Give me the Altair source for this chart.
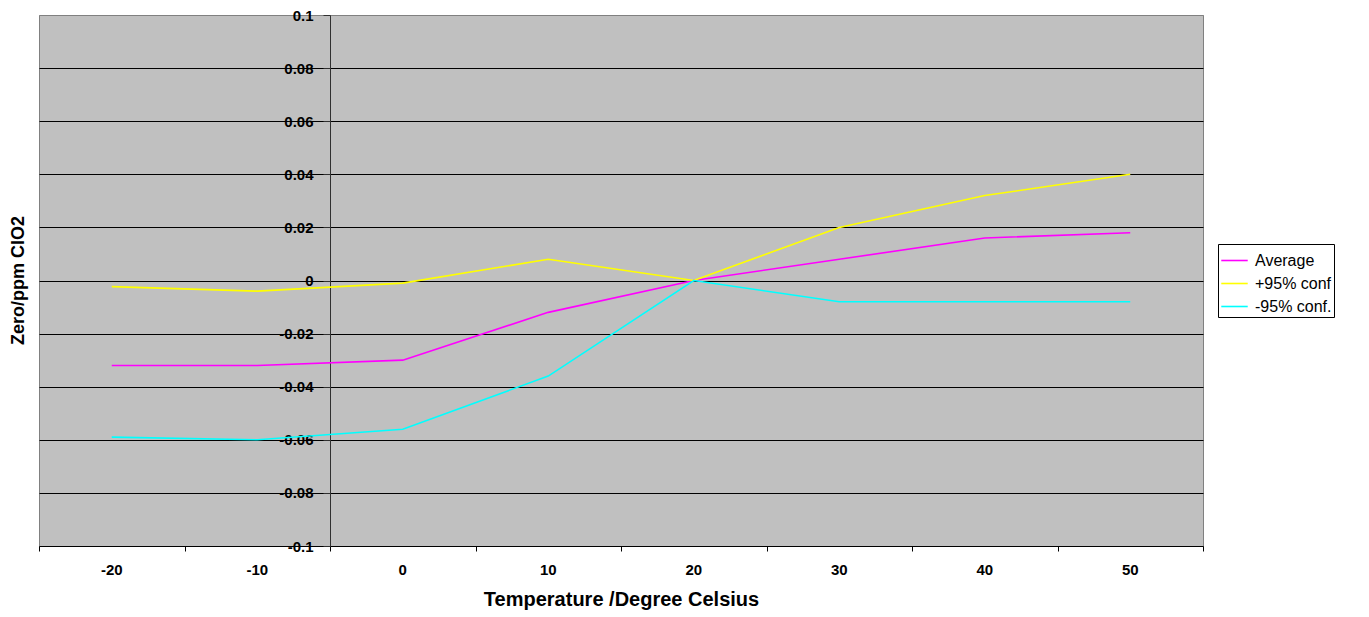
import altair as alt
import pandas as pd

temps = [-20, -10, 0, 10, 20, 30, 40, 50]
temp_labels = ["-20", "-10", "0", "10", "20", "30", "40", "50"]
average = [-0.032, -0.032, -0.030, -0.012, 0.0, 0.008, 0.016, 0.018]
plus95 = [-0.0023, -0.004, -0.001, 0.008, 0.0, 0.020, 0.032, 0.040]
minus95 = [-0.059, -0.060, -0.056, -0.036, 0.0, -0.008, -0.008, -0.008]
series_names = ["Average", "+95% conf", "-95% conf."]
series_colors = ["#FF00FF", "#FFFF00", "#00FFFF"]
y_ticks = [0.1, 0.08, 0.06, 0.04, 0.02, 0.0, -0.02, -0.04, -0.06, -0.08, -0.1]
x_bounds = [-25, -15, -5, 5, 15, 25, 35, 45, 55]

rows = []
for name, vals in zip(series_names, [average, plus95, minus95]):
    for t, v in zip(temps, vals):
        rows.append({"temp": t, "value": v, "series": name})
df = pd.DataFrame(rows)

W, H = 1164, 531
FONT = "Liberation Sans"

x_scale = alt.Scale(domain=[-25, 55], nice=False, zero=False)
y_scale = alt.Scale(domain=[-0.1, 0.1], nice=False, zero=False)

lines = alt.Chart(df).mark_line(strokeWidth=1.6).encode(
    x=alt.X("temp:Q", scale=x_scale,
            axis=alt.Axis(values=x_bounds, title="Temperature /Degree Celsius",
                          labels=False, tickSize=5,
                          tickColor="black", domainColor="black", grid=False,
                          titleFont=FONT, titleFontSize=20,
                          titleFontWeight="bold", titleColor="black", titlePadding=38)),
    y=alt.Y("value:Q", scale=y_scale,
            axis=alt.Axis(values=y_ticks, title=None, labelExpr="'' + datum.value",
                          offset=-(W * 20 / 80),
                          tickSize=7, tickColor="#303030", domainColor="#303030",
                          labelPadding=10, grid=True,
                          gridColor={"condition": {"test": "abs(datum.value) > 0.099", "value": "#808080"}, "value": "black"},
                          gridWidth=1,
                          labelFont=FONT, labelFontSize=15, labelFontWeight="bold",
                          labelColor="black")),
    color=alt.Color("series:N", scale=alt.Scale(domain=series_names, range=series_colors),
                    legend=alt.Legend(title=None, orient="none", legendX=1179, legendY=229,
                                      symbolType="stroke", symbolSize=700, symbolStrokeWidth=1.6,
                                      fillColor="white", strokeColor="black", padding=2,
                                      labelFont=FONT, labelFontSize=16, labelColor="black",
                                      rowPadding=-4, labelOffset=6)),
)

xlabels = alt.Chart(pd.DataFrame({"temp": temps, "lab": temp_labels})).mark_text(
    font=FONT, fontSize=15, fontWeight="bold", color="black", baseline="middle"
).encode(x=alt.X("temp:Q", scale=x_scale), y=alt.value(H + 24), text="lab:N")

ytitle = alt.Chart(pd.DataFrame({"t": ["Zero/ppm ClO2"]})).mark_text(
    angle=270, font=FONT, fontSize=18, fontWeight="bold", color="black", baseline="middle"
).encode(x=alt.value(-20), y=alt.value(H / 2), text="t:N")

chart = alt.layer(lines, xlabels, ytitle).properties(
    width=W, height=H,
    autosize=alt.AutoSizeParams(type="none"),
    padding={"left": 31, "top": 7, "right": 150, "bottom": 70},
).configure_view(fill="#C0C0C0", stroke="#808080", strokeWidth=1)

chart.save("out.html", embed_options={"renderer": "svg", "actions": False})
